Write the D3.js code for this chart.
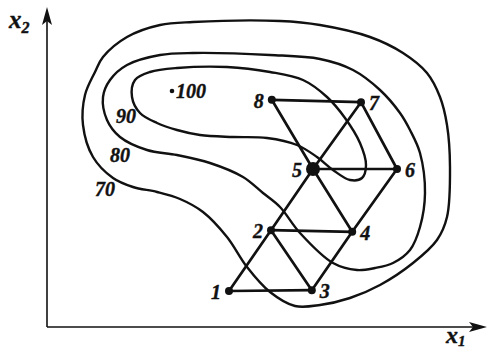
<!DOCTYPE html>
<html>
<head>
<meta charset="utf-8">
<script src="https://cdn.jsdelivr.net/npm/d3@7"></script>
<style>
  html, body { margin: 0; padding: 0; background: #fff; }
  svg { display: block; }
  text { font-family: "Liberation Serif", "DejaVu Serif", serif; font-style: italic; font-weight: bold; fill: #111; stroke: #111; stroke-width: 0.4px; }
</style>
</head>
<body>
<svg id="chart" width="489" height="351"></svg>
<script>
// Simplex vertices (x1, x2) and their numbers
const pointIds = [1, 2, 3, 4, 5, 6, 7, 8];
const pointX1 = [45.5, 56, 66.2, 76.3, 66.5, 87.5, 78.5, 56.2];
const pointX2 = [9, 24.2, 9.2, 23.8, 39.5, 39.5, 56.2, 56.8];

// Triangle edges between simplex vertices (by number)
const edges = [[1,3],[1,2],[2,3],[2,4],[3,4],[2,5],[4,5],[4,6],[5,6],[5,7],[6,7],[7,8],[8,5]];

// Response surface level lines
const levels = [70, 80, 90];
const contour70 = [[36.5,76.25],[58.25,76.5],[68.25,75.5],[80.75,72.5],[89,68.5],[95,63.5],[98.25,57.5],[100,50.5],[100.75,40],[100,27.5],[97.5,21.75],[91.5,16],[83.25,10.5],[75.75,7.25],[68.25,5.5],[62,5.25],[55.75,8.75],[50,15],[45,22.5],[39,28.75],[33.25,32],[27.5,33.75],[21.5,35],[16.5,37.25],[11.5,42.5],[9,50.5],[9.5,58],[12,63.75],[14,67.5],[20,72.5],[28.25,75.5]];
const contour80 = [[36.5,68.5],[55.75,68],[68.25,67],[76.5,64.25],[83.25,59.25],[88.25,53.5],[90.75,49.25],[93.25,43.5],[94.5,33.5],[93.25,25],[90.75,19.25],[86.5,16],[82,14.75],[77.5,14.25],[71.5,16],[63.25,23.5],[58.25,30],[54,33.5],[49,37.5],[40.75,41],[32.5,43],[25,44.25],[18.25,47.5],[15,51.75],[14,57.5],[15.75,61.75],[20,65.5],[28.25,68]];
const contour90 = [[32.5,64.75],[45,65],[55.75,63.75],[64,61.75],[70,57.5],[74.5,52.25],[78.25,46],[79.75,40.5],[78.75,37.25],[75.75,36.75],[71.5,39.25],[67.5,42.5],[62.5,45.5],[55,47.25],[46.5,47.5],[38.25,48],[32.5,49.25],[27.5,51],[23.25,53.5],[21.25,57.5],[22,61.75],[25.75,63.75]];
const levelLabelAt = [[14.5,34.5],[18.25,43],[19.75,52.75]];

// Optimum
const peakValue = 100;
const peakAt = [31.25, 59];

const svg = d3.select("#chart");
const x = d3.scaleLinear().domain([0, 110]).range([47, 487]);
const y = d3.scaleLinear().domain([0, 80]).range([327, 7]);

// Axes with arrowheads
const ax = svg.append("g").attr("stroke", "#111").attr("fill", "none");
ax.append("line").attr("x1", x(0)).attr("y1", y(0)).attr("x2", x(110) - 10).attr("y2", y(0)).attr("stroke-width", 1.6);
ax.append("line").attr("x1", x(0)).attr("y1", y(0)).attr("x2", x(0)).attr("y2", y(80) + 10).attr("stroke-width", 1.6);
svg.append("path")
  .attr("d", `M${x(110)},${y(0)} L${x(110) - 18},${y(0) - 5} L${x(110) - 14},${y(0)} L${x(110) - 18},${y(0) + 5} Z`)
  .attr("fill", "#111");
svg.append("path")
  .attr("d", `M${x(0)},${y(80)} L${x(0) - 5},${y(80) + 18} L${x(0)},${y(80) + 14} L${x(0) + 5},${y(80) + 18} Z`)
  .attr("fill", "#111");

// Axis titles
const t2 = svg.append("text").attr("x", 9).attr("y", 28).attr("font-size", 25);
t2.append("tspan").text("x");
t2.append("tspan").attr("font-size", 16).attr("dy", 5).text("2");
const t1 = svg.append("text").attr("x", 446).attr("y", 343).attr("font-size", 24);
t1.append("tspan").text("x");
t1.append("tspan").attr("font-size", 15).attr("dy", 3).text("1");

// Level lines
const line = d3.line().x(d => x(d[0])).y(d => y(d[1])).curve(d3.curveCatmullRomClosed.alpha(0.5));
svg.append("g").attr("fill", "none").attr("stroke", "#111").attr("stroke-width", 2.4)
  .selectAll("path").data([contour70, contour80, contour90]).join("path").attr("d", line);

svg.append("g").selectAll("text").data(levels).join("text")
  .attr("x", (d, i) => x(levelLabelAt[i][0]))
  .attr("y", (d, i) => y(levelLabelAt[i][1]))
  .attr("text-anchor", "middle").attr("dy", "0.35em").attr("font-size", 20)
  .text(d => d);

// Optimum marker
svg.append("circle").attr("cx", x(peakAt[0])).attr("cy", y(peakAt[1])).attr("r", 2.3).attr("fill", "#111");
svg.append("text").attr("x", x(peakAt[0]) + 4).attr("y", y(peakAt[1])).attr("dy", "0.35em")
  .attr("font-size", 20).text(peakValue);

// Simplex edges
const pts = pointIds.map((id, i) => ({ id, x1: pointX1[i], x2: pointX2[i] }));
const byId = new Map(pts.map(p => [p.id, p]));
svg.append("g").attr("stroke", "#111").attr("stroke-width", 2.7).attr("stroke-linecap", "round")
  .selectAll("line").data(edges).join("line")
  .attr("x1", d => x(byId.get(d[0]).x1)).attr("y1", d => y(byId.get(d[0]).x2))
  .attr("x2", d => x(byId.get(d[1]).x1)).attr("y2", d => y(byId.get(d[1]).x2));

// Vertices
svg.append("g").selectAll("circle").data(pts).join("circle")
  .attr("cx", d => x(d.x1)).attr("cy", d => y(d.x2))
  .attr("r", d => d.id === 5 ? 7 : 4).attr("fill", "#111");

// Vertex numbers: left side for 1, 2, 5, 8; right side for the rest
const leftSide = new Set([1, 2, 5, 8]);
svg.append("g").selectAll("text").data(pts).join("text")
  .attr("x", d => x(d.x1) + (leftSide.has(d.id) ? (d.id === 5 ? -11 : -8) : 8))
  .attr("y", d => y(d.x2) + 1)
  .attr("dy", "0.35em")
  .attr("text-anchor", d => leftSide.has(d.id) ? "end" : "start")
  .attr("font-size", 20)
  .text(d => d.id);
</script>
</body>
</html>
